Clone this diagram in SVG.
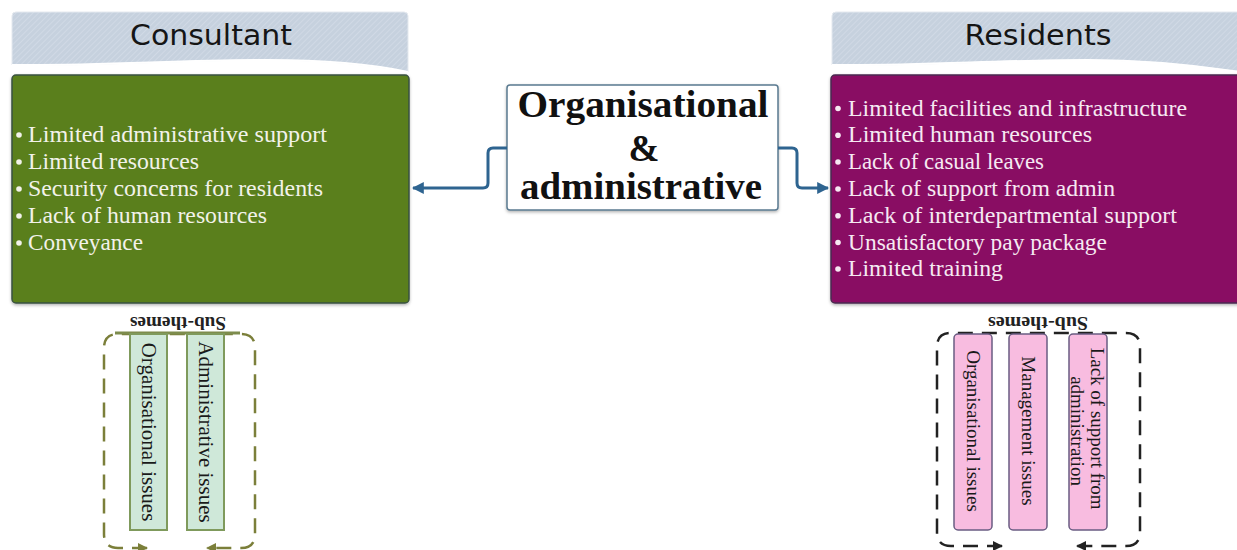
<svg xmlns="http://www.w3.org/2000/svg" width="1237" height="550" viewBox="0 0 1237 550">
  <defs>
    <pattern id="hatch" patternUnits="userSpaceOnUse" width="4" height="4" patternTransform="rotate(45)">
      <rect width="4" height="4" fill="#c6d1de"/>
      <line x1="0" y1="0" x2="0" y2="4" stroke="#d3dce7" stroke-width="1.6"/>
    </pattern>
    <filter id="shadow" x="-5%" y="-5%" width="110%" height="115%">
      <feDropShadow dx="0" dy="1.5" stdDeviation="1.5" flood-color="#000" flood-opacity="0.3"/>
    </filter>
    <marker id="arrowBlue" viewBox="0 0 10 10" refX="9" refY="5" markerWidth="4" markerHeight="4" orient="auto">
      <path d="M0,0 L10,5 L0,10 z" fill="#2e6490"/>
    </marker>
    <marker id="arrowOlive" viewBox="0 0 10 10" refX="9" refY="5" markerWidth="4" markerHeight="4" orient="auto-start-reverse">
      <path d="M0,0 L10,5 L0,10 z" fill="#7b7f3a"/>
    </marker>
    <marker id="arrowDark" viewBox="0 0 10 10" refX="9" refY="5" markerWidth="4" markerHeight="4" orient="auto-start-reverse">
      <path d="M0,0 L10,5 L0,10 z" fill="#222"/>
    </marker>
  </defs>
  <style>
    .hdr { fill: url(#hatch); stroke: #e4e9ef; stroke-width: 1; }
    .hdrText { font-family: "DejaVu Sans", "Liberation Sans", sans-serif; font-size: 29px; fill: #151515; text-anchor: middle; }
    .item { font-family: "Liberation Serif", serif; font-size: 23.5px; }
    .itemG { fill: #f2f2ea; }
    .itemP { fill: #f6e9f2; }
    .bulG { fill: #f2f2ea; }
    .bulP { fill: #f6e9f2; }
    .center { font-family: "Liberation Serif", serif; font-weight: bold; font-size: 37px; fill: #111; text-anchor: middle; }
    .conn { fill: none; stroke: #2e6490; stroke-width: 3; stroke-linejoin: round; }
    .sub { font-family: "Liberation Serif", serif; font-weight: bold; font-size: 19px; fill: #222; text-anchor: middle; }
    .theme { font-family: "Liberation Serif", serif; fill: #1a1a1a; text-anchor: middle; }
    .rectG { fill: #cfe8d9; stroke: #7f9a5c; stroke-width: 2; }
    .rectP { fill: #f8bce0; stroke: #6a5c82; stroke-width: 1.5; }
    .dashG { fill: none; stroke: #7b7f3a; stroke-width: 2.5; stroke-dasharray: 15 9; }
    .dashP { fill: none; stroke: #222; stroke-width: 2.5; stroke-dasharray: 15 9; }
  </style>

  <rect width="1237" height="550" fill="#ffffff"/>

  <!-- Consultant column -->
  <g id="consultant-header">
    <path class="hdr" d="M12,16 Q12,12 16,12 H404 Q408,12 408,16 V72 C380,66 330,60 267,60 C180,60 100,66 12,65 Z"/>
    <path d="M12,65 C100,66 180,60 267,60 C330,60 380,66 408,72" fill="none" stroke="#ffffff" stroke-width="2"/>
    <text class="hdrText" x="211" y="45" textLength="162" lengthAdjust="spacingAndGlyphs">Consultant</text>
  </g>

  <g id="consultant-box">
    <rect x="12" y="75" width="397" height="228" rx="4" fill="#5a7f1e" stroke="#3a5240" stroke-width="1.5" filter="url(#shadow)"/>
    <circle class="bulG" cx="19" cy="135" r="2.8"/>
    <circle class="bulG" cx="19" cy="162" r="2.8"/>
    <circle class="bulG" cx="19" cy="189" r="2.8"/>
    <circle class="bulG" cx="19" cy="216" r="2.8"/>
    <circle class="bulG" cx="19" cy="243" r="2.8"/>
    <text class="item itemG" x="28" y="142" textLength="299" lengthAdjust="spacingAndGlyphs">Limited administrative support</text>
    <text class="item itemG" x="28" y="169" textLength="171" lengthAdjust="spacingAndGlyphs">Limited resources</text>
    <text class="item itemG" x="28" y="196" textLength="295" lengthAdjust="spacingAndGlyphs">Security concerns for residents</text>
    <text class="item itemG" x="28" y="223" textLength="239" lengthAdjust="spacingAndGlyphs">Lack of human resources</text>
    <text class="item itemG" x="28" y="250" textLength="115" lengthAdjust="spacingAndGlyphs">Conveyance</text>
  </g>

  <!-- Residents column -->
  <g id="residents-header">
    <path class="hdr" d="M832,16 Q832,12 836,12 H1240 V72 C1200,66 1150,60 1087,60 C1000,60 920,66 832,65 Z"/>
    <path d="M832,65 C920,66 1000,60 1087,60 C1150,60 1200,66 1240,72" fill="none" stroke="#ffffff" stroke-width="2"/>
    <text class="hdrText" x="1038" y="45" textLength="147" lengthAdjust="spacingAndGlyphs">Residents</text>
  </g>

  <g id="residents-box">
    <rect x="831" y="75" width="412" height="228" rx="4" fill="#891163" stroke="#4a2a50" stroke-width="1.5" filter="url(#shadow)"/>
    <circle class="bulP" cx="838" cy="108.5" r="2.8"/>
    <circle class="bulP" cx="838" cy="135.3" r="2.8"/>
    <circle class="bulP" cx="838" cy="162" r="2.8"/>
    <circle class="bulP" cx="838" cy="189" r="2.8"/>
    <circle class="bulP" cx="838" cy="215.7" r="2.8"/>
    <circle class="bulP" cx="838" cy="242.5" r="2.8"/>
    <circle class="bulP" cx="838" cy="269" r="2.8"/>
    <text class="item itemP" x="848" y="115.5" textLength="339" lengthAdjust="spacingAndGlyphs">Limited facilities and infrastructure</text>
    <text class="item itemP" x="848" y="142.3" textLength="244" lengthAdjust="spacingAndGlyphs">Limited human resources</text>
    <text class="item itemP" x="848" y="169" textLength="196" lengthAdjust="spacingAndGlyphs">Lack of casual leaves</text>
    <text class="item itemP" x="848" y="196" textLength="267" lengthAdjust="spacingAndGlyphs">Lack of support from admin</text>
    <text class="item itemP" x="848" y="222.7" textLength="329" lengthAdjust="spacingAndGlyphs">Lack of interdepartmental support</text>
    <text class="item itemP" x="848" y="249.5" textLength="259" lengthAdjust="spacingAndGlyphs">Unsatisfactory pay package</text>
    <text class="item itemP" x="848" y="276" textLength="155" lengthAdjust="spacingAndGlyphs">Limited training</text>
  </g>

  <!-- Central theme -->
  <g id="theme-box">
    <rect x="507" y="85" width="271" height="125" rx="3" fill="#ffffff" stroke="#5a7a90" stroke-width="1.5" filter="url(#shadow)"/>
    <text class="center" x="643" y="116.5" textLength="251" lengthAdjust="spacingAndGlyphs">Organisational</text>
    <text class="center" x="644" y="160.5">&amp;</text>
    <text class="center" x="641" y="199" textLength="242" lengthAdjust="spacingAndGlyphs">administrative</text>
  </g>

  <!-- Connectors -->
  <g id="connectors">
    <path class="conn" d="M507,148 H493 Q488,148 488,153 V183 Q488,188 483,188 H413" marker-end="url(#arrowBlue)"/>
    <path class="conn" d="M778,148 H792 Q797,148 797,153 V183 Q797,188 802,188 H828" marker-end="url(#arrowBlue)"/>
  </g>

  <!-- Consultant sub-themes -->
  <g id="consultant-subthemes">
    <text class="sub" transform="translate(178,322) rotate(180)" y="5" textLength="96" lengthAdjust="spacingAndGlyphs">Sub-themes</text>
    <path class="dashG" d="M147,548 H118 Q104,548 104,534 V348 Q104,334 118,334 H241 Q255,334 255,348 V534 Q255,548 241,548 H207" marker-start="url(#arrowOlive)" marker-end="url(#arrowOlive)"/>
    <line x1="115" y1="333" x2="240" y2="333" stroke="#7d8c4d" stroke-width="3"/>
  </g>

  <g id="consultant-organisational">
    <rect class="rectG" x="130" y="334" width="37" height="196"/>
    <text class="theme" font-size="21" transform="translate(148.5,432) rotate(90)" y="7">Organisational issues</text>
  </g>

  <g id="consultant-administrative">
    <rect class="rectG" x="187" y="334" width="37" height="196"/>
    <text class="theme" font-size="21" transform="translate(205.5,432) rotate(90)" y="7">Administrative issues</text>
  </g>

  <!-- Residents sub-themes -->
  <g id="residents-subthemes">
    <text class="sub" transform="translate(1038,322) rotate(180)" y="5" textLength="100" lengthAdjust="spacingAndGlyphs">Sub-themes</text>
    <path class="dashP" d="M1002,546 H951 Q937,546 937,532 V347 Q937,333 951,333 H1126 Q1140,333 1140,347 V532 Q1140,546 1126,546 H1077" marker-start="url(#arrowDark)" marker-end="url(#arrowDark)"/>
  </g>

  <g id="residents-organisational">
    <rect class="rectP" x="954" y="334" width="38" height="196" rx="4"/>
    <text class="theme" font-size="19" transform="translate(973,431) rotate(90)" y="6">Organisational issues</text>
  </g>

  <g id="residents-management">
    <rect class="rectP" x="1009" y="334" width="38" height="196" rx="4"/>
    <text class="theme" font-size="19" transform="translate(1028,431) rotate(90)" y="6">Management issues</text>
  </g>

  <g id="residents-support">
    <rect class="rectP" x="1069" y="334" width="38" height="196" rx="4"/>
    <text class="theme" font-size="19" transform="translate(1088,431) rotate(90)">
      <tspan x="0" y="-3">Lack of support from</tspan>
      <tspan x="0" y="17">administration</tspan>
    </text>
  </g>
</svg>
